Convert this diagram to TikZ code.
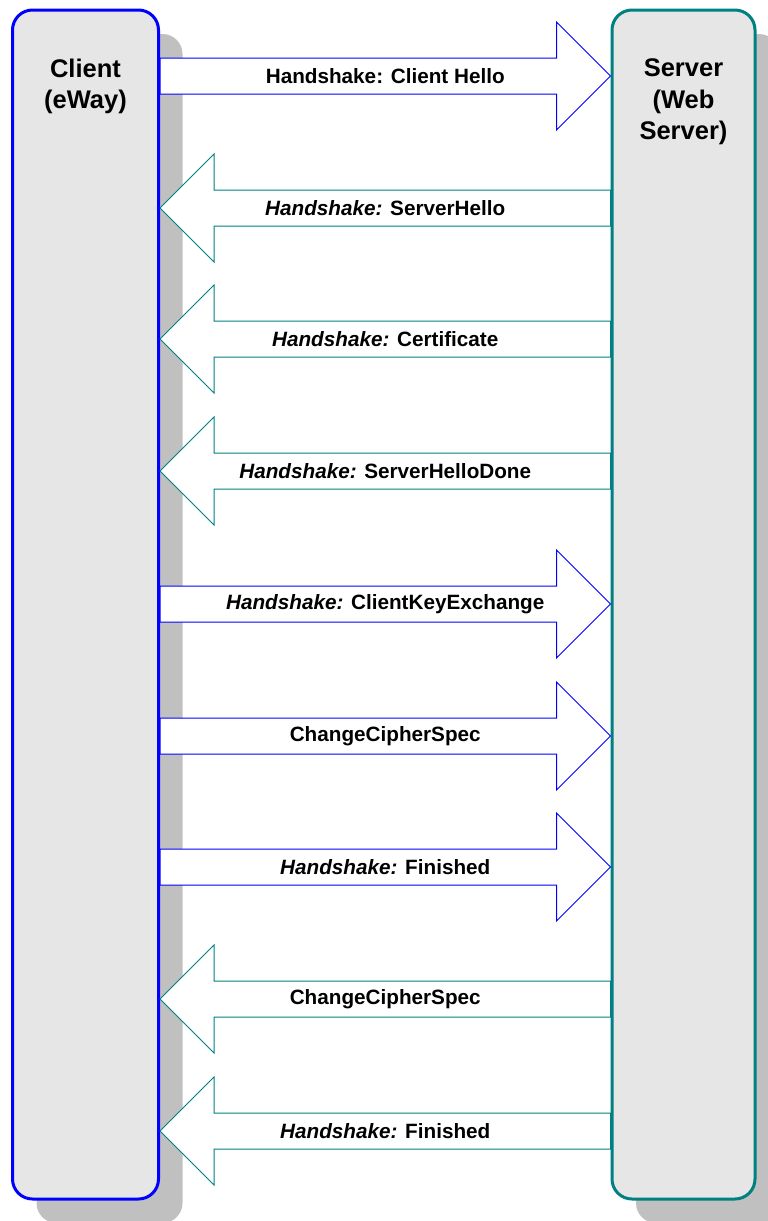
\documentclass[tikz,border=0pt]{standalone}
\usepackage{fontspec}
\setmainfont{Liberation Sans}
\usetikzlibrary{positioning, shadows, calc}
\definecolor{azulcliente}{HTML}{0000FF}
\definecolor{verdeservidor}{HTML}{008080}
\definecolor{griscaja}{HTML}{E6E6E6}
\definecolor{grissombra}{HTML}{C0C0C0}
\tikzset{
  cajaLado/.style={
    draw, line width=3pt, rounded corners=20pt, fill=griscaja,
    minimum height=1189pt, inner sep=0pt,
    drop shadow={shadow xshift=24pt, shadow yshift=-24pt,
      fill=grissombra, opacity=1}
  },
  cajaCliente/.style={cajaLado, draw=azulcliente, minimum width=146pt},
  cajaServidor/.style={cajaLado, draw=verdeservidor, minimum width=143pt},
  tituloCaja/.style={
    align=center, inner sep=0pt,
    font=\fontsize{25.5}{31.5}\selectfont\bfseries
  },
  flecha/.style={line width=1pt, fill=white, line join=miter},
  etiquetaMensaje/.style={font=\fontsize{20.7}{24}\selectfont\bfseries, inner sep=1pt},
}

\begin{document}
\begin{tikzpicture}[x=1pt, y=-1pt]
  \useasboundingbox (0,0) rectangle (768,1221);
  \clip (0,0) rectangle (768,1221);

  % los dos extremos
  \node[cajaCliente] (client) at (85.5,604.5) {};
  \node[cajaServidor, right=450.5pt of client] (server) {};
  \node[tituloCaja, below=50pt of client.north] (tituloCliente) {Client\\(eWay)};
  \node[tituloCaja, below=50pt of server.north] (tituloServidor) {Server\\(Web\\Server)};

  % mensajes del handshake
  \foreach \y/\de/\a/\col/\texto in {
      76/client.east/server.west/azulcliente/{Handshake: Client Hello},
      208/server.west/client.east/verdeservidor/{\textit{Handshake:} ServerHello},
      339/server.west/client.east/verdeservidor/{\textit{Handshake:} Certificate},
      471/server.west/client.east/verdeservidor/{\textit{Handshake:} ServerHelloDone},
      604/client.east/server.west/azulcliente/{\textit{Handshake:} ClientKeyExchange},
      736/client.east/server.west/azulcliente/{ChangeCipherSpec},
      867/client.east/server.west/azulcliente/{\textit{Handshake:} Finished},
      999/server.west/client.east/verdeservidor/{ChangeCipherSpec},
      1131/server.west/client.east/verdeservidor/{\textit{Handshake:} Finished}}{
    \coordinate (cola) at (\de |- 0,\y);
    \coordinate (punta) at (\a |- 0,\y);
    \coordinate (base) at ($(punta)!54pt!(cola)$);
    \draw[flecha, draw=\col]
      ($(cola)+(0,-18)$) -- ($(base)+(0,-18)$) -- ($(base)+(0,-54)$)
      -- (punta) -- ($(base)+(0,54)$) -- ($(base)+(0,18)$)
      -- ($(cola)+(0,18)$) -- cycle;
    \node[etiquetaMensaje] (msg\y) at ($(cola)!0.5!(punta)$) {\texto};
  }
\end{tikzpicture}
\end{document}
